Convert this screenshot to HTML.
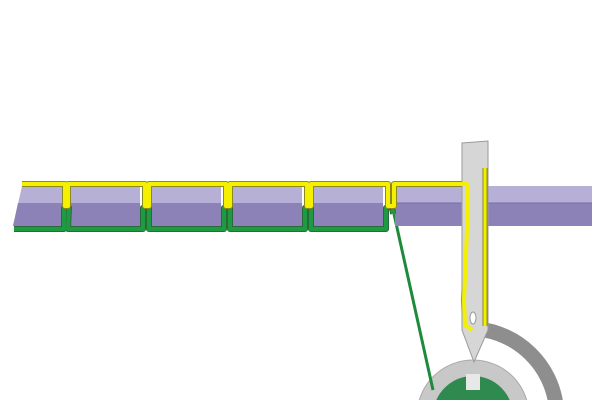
<!DOCTYPE html><html><head><style>html,body{margin:0;background:#fff;overflow:hidden;width:600px;height:400px}svg{display:block}</style></head><body>
<svg width="600" height="400" viewBox="0 0 600 400" xmlns="http://www.w3.org/2000/svg">
<rect width="600" height="400" fill="#fff"/>
<path d="M478 329 A88 88 0 0 1 556 405" fill="none" stroke="#8e8e8e" stroke-width="15"/>
<circle cx="473" cy="416" r="56" fill="#c8c8c8" stroke="#aaa" stroke-width="1"/>
<circle cx="473" cy="416" r="40" fill="#2f8a50"/>
<rect x="466" y="374" width="14" height="16" fill="#e8e8e8"/>
<line x1="394" y1="214" x2="433" y2="390" stroke="#1e8a3c" stroke-width="3"/>
<path d="M22 186 L62 186 L62 226 L13 226 Z" fill="#b7b0d6"/>
<path d="M18 203 L62 203 L62 226 L13 226 Z" fill="#8c82b8"/>
<g>
<rect x="70" y="186" width="70" height="40" fill="#b7b0d6"/><rect x="70" y="203" width="70" height="23" fill="#8c82b8"/>
<rect x="151" y="186" width="70" height="40" fill="#b7b0d6"/><rect x="151" y="203" width="70" height="23" fill="#8c82b8"/>
<rect x="232" y="186" width="70" height="40" fill="#b7b0d6"/><rect x="232" y="203" width="70" height="23" fill="#8c82b8"/>
<rect x="313" y="186" width="70" height="40" fill="#b7b0d6"/><rect x="313" y="203" width="70" height="23" fill="#8c82b8"/>
<rect x="395" y="186" width="197" height="40" fill="#b7b0d6"/><rect x="395" y="203" width="197" height="23" fill="#8c82b8"/>
<line x1="395" y1="203" x2="592" y2="203" stroke="#776ca5" stroke-width="1"/>
</g>
<g fill="none" stroke-linejoin="round">
<path d="M14 229 L64 229 L64 208 L69 206 M69 206 L68 229 L143 229 L143 208 L149 206 L149 229 L224 229 L224 208 L230 206 L230 229 L305 229 L305 208 L311 206 L311 229 L386 229 L386 208 L392 206 L393 214" stroke="#2a6a3a" stroke-width="6"/>
<path d="M14 229 L64 229 L64 208 L69 206 M69 206 L68 229 L143 229 L143 208 L149 206 L149 229 L224 229 L224 208 L230 206 L230 229 L305 229 L305 208 L311 206 L311 229 L386 229 L386 208 L392 206 L393 214" stroke="#1e9a40" stroke-width="4"/>
<path d="M22 184 L65 184 L65 206 L68 206 L68 184 L145 184 L145 206 L149 206 L149 184 L226 184 L226 206 L230 206 L230 184 L307 184 L307 206 L311 206 L311 184 L388 184 L388 206 L394 206 L394 184 L467 184 L467 230 L464 300 L465 325 L472 330" stroke="#8a8a20" stroke-width="6"/>
</g>
<path d="M462 143 L488 141 L488 330 L474 362 L462 330 Z" fill="#d6d6d6" stroke="#9a9a9a" stroke-width="1"/>
<ellipse cx="473" cy="318" rx="3" ry="6" fill="#fff" stroke="#999"/>
<path d="M22 184 L65 184 L65 206 L68 206 L68 184 L145 184 L145 206 L149 206 L149 184 L226 184 L226 206 L230 206 L230 184 L307 184 L307 206 L311 206 L311 184 L388 184 L388 206 L394 206 L394 184 L467 184 L467 230 L464 300 L465 325 L472 330" fill="none" stroke="#f4f000" stroke-width="4" stroke-linejoin="round"/>
<line x1="485" y1="168" x2="485" y2="326" stroke="#8a8a20" stroke-width="5"/>
<line x1="485" y1="168" x2="485" y2="326" stroke="#f4f000" stroke-width="3"/>
</svg>
</body></html>
